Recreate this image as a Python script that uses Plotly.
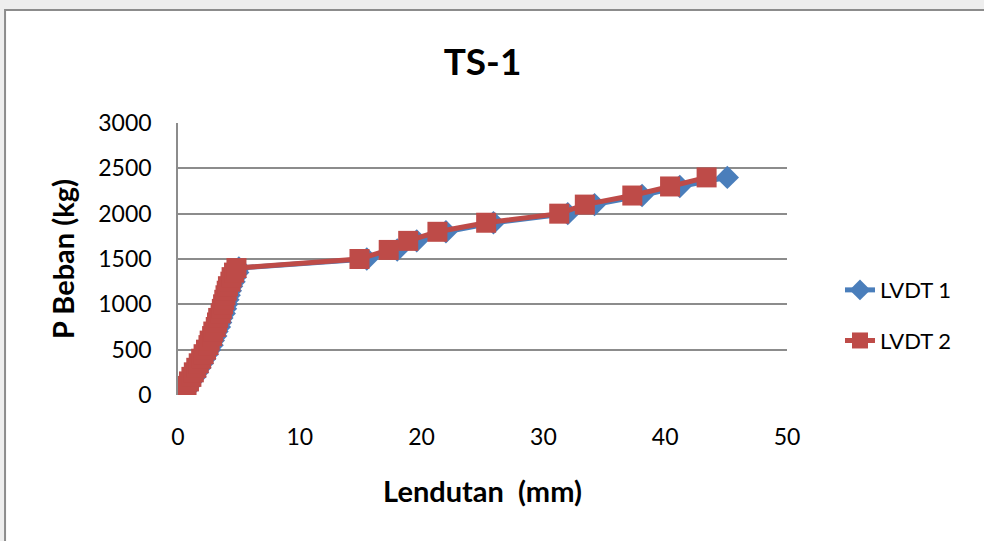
import plotly.graph_objects as go

# Load steps (kg)
load = [0, 50, 100, 150, 200, 250, 300, 350, 400, 450, 500, 550, 600, 650, 700,
        750, 800, 850, 900, 950, 1000, 1050, 1100, 1150, 1200, 1250, 1300, 1350, 1400,
        1500, 1600, 1700, 1800, 1900, 2000, 2100, 2200, 2300, 2400]

# Deflection readings (mm)
lvdt1 = [0.5, 0.7, 0.9, 1.1, 1.4, 1.6, 1.8, 2.0, 2.2, 2.4, 2.6, 2.8, 2.9, 3.1, 3.2,
         3.4, 3.5, 3.6, 3.8, 3.9, 4.0, 4.1, 4.2, 4.3, 4.4, 4.6, 4.7, 4.9, 5.0,
         15.5, 18.0, 19.6, 22.0, 25.9, 32.0, 34.2, 38.1, 41.2, 45.1]
lvdt2 = [0.3, 0.5, 0.7, 0.9, 1.1, 1.3, 1.5, 1.7, 1.9, 2.1, 2.3, 2.5, 2.6, 2.8, 2.9,
         3.1, 3.2, 3.3, 3.5, 3.6, 3.7, 3.8, 3.9, 4.0, 4.1, 4.3, 4.4, 4.6, 4.8,
         14.9, 17.3, 18.9, 21.3, 25.3, 31.3, 33.4, 37.3, 40.4, 43.4]

x_ticks = [0, 10, 20, 30, 40, 50]
y_ticks = [0, 500, 1000, 1500, 2000, 2500, 3000]

FONT = "Lato, 'Open Sans', sans-serif"
BLUE = "#4a7ebb"
RED = "#be4b48"

fig = go.Figure()
fig.add_trace(go.Scatter(
    x=lvdt1, y=load, name="LVDT 1", mode="lines+markers", legendgroup="a",
    line=dict(color=BLUE, width=5),
    marker=dict(symbol="diamond", size=18, color=BLUE),
))
fig.add_trace(go.Scatter(
    x=lvdt2, y=load, name="LVDT 2", mode="lines+markers", legendgroup="b",
    line=dict(color=RED, width=5),
    marker=dict(symbol="square", size=20, color=RED),
))

# Chart frame: white area with a grey border on a light backdrop
fig.add_shape(type="rect", xref="paper", yref="paper",
              x0=-0.284, x1=2.0, y0=-1.0, y1=1.415,
              line=dict(color="#8c8c8c", width=2), fillcolor="white", layer="below")

fig.update_layout(
    width=984, height=541,
    margin=dict(l=178, r=197, t=123, b=146),
    paper_bgcolor="#eeeeee",
    plot_bgcolor="rgba(0,0,0,0)",
    font=dict(family=FONT, color="black", size=22),
    title=dict(text="<b>TS-1</b>", x=0.5, xref="paper", xanchor="center",
               y=0.885, yanchor="middle", font=dict(size=37, family=FONT)),
    xaxis=dict(range=[0, 50], tickvals=x_ticks, showgrid=False, zeroline=False,
               showline=False, ticks="", tickfont=dict(size=23), ticklabelstandoff=26,
               title=dict(text="<b>Lendutan  (mm)</b>", font=dict(size=29), standoff=32)),
    yaxis=dict(range=[0, 3000], tickvals=y_ticks, showgrid=True, gridcolor="#8c8c8c",
               gridwidth=1.5, zeroline=False, showline=True, linecolor="#8c8c8c",
               linewidth=1.5, ticks="", tickfont=dict(size=23), ticklabelstandoff=20,
               title=dict(text="<b>P Beban (kg)</b>", font=dict(size=29), standoff=15)),
    legend=dict(x=1.087, y=0.292, xanchor="left", yanchor="middle",
                font=dict(size=22), tracegroupgap=19, bgcolor="rgba(0,0,0,0)"),
)

fig.write_html("out.html")
